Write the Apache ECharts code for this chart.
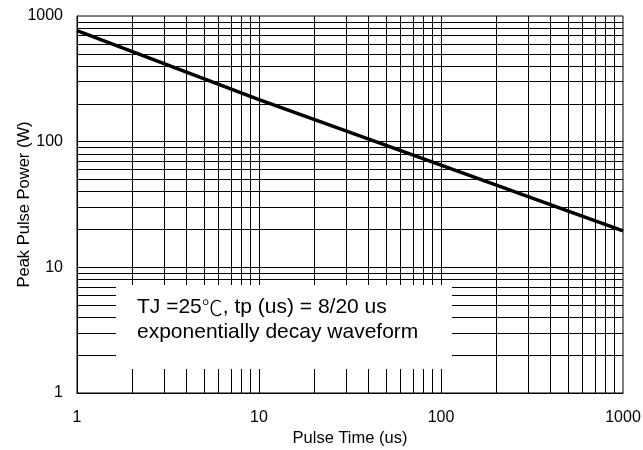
<!DOCTYPE html>
<html>
<head>
<meta charset="utf-8">
<script src="https://cdn.jsdelivr.net/npm/echarts@6/dist/echarts.min.js"></script>
<style>html,body{margin:0;padding:0;background:#fff}#c{width:643px;height:450px}</style>
</head>
<body>
<div id="c"></div>
<script>
// Data
const pulseTime = [1, 10, 100, 1000];
const peakPower = [765, 216, 65, 19.5];
const xGridValues = [2,3,4,5,6,7,8,9,10,20,30,40,50,60,70,80,90,100,200,300,400,500,600,700,800,900];
const yGridValues = [2,3,4,5,6,7,8,9,10,20,30,40,50,60,70,80,90,100,200,300,400,500,600,700,800,900];
const xTickLabels = ['1', '10', '100', '1000'];
const yTickLabels = ['1', '10', '100', '1000'];
const xTitle = 'Pulse Time (us)';
const yTitle = 'Peak Pulse Power (W)';
const noteLine1Parts = ['TJ =25', '\u2103', ', tp (us) = 8/20 us'];
const noteLine2 = 'exponentially decay waveform';

const FONT = '"Liberation Sans", Arial, sans-serif';
const chart = echarts.init(document.getElementById('c'), null, {renderer: 'canvas'});

const gridMarks = [];
xGridValues.forEach(v => gridMarks.push({xAxis: v}));
yGridValues.forEach(v => gridMarks.push({yAxis: v}));

function tickFmt(list) {
  return function (v) {
    const i = Math.round(Math.log10(v));
    return list[i] !== undefined ? list[i] : String(v);
  };
}

chart.setOption({
  animation: false,
  backgroundColor: '#fff',
  grid: {left: 77, right: 20, top: 16, bottom: 57, show: true, borderColor: '#000', borderWidth: 1,
         backgroundColor: 'transparent', containLabel: false, outerBoundsMode: 'none'},
  xAxis: {
    type: 'log', logBase: 10, min: 1, max: 1000,
    name: xTitle, nameLocation: 'middle', nameGap: 37, nameMoveOverlap: false,
    nameTextStyle: {fontFamily: FONT, fontSize: 16.5, color: '#000'},
    axisLine: {show: true, lineStyle: {color: '#000', width: 1}},
    axisTick: {show: false},
    axisLabel: {fontFamily: FONT, fontSize: 16, color: '#000', margin: 17, formatter: tickFmt(xTickLabels)},
    splitLine: {show: false}
  },
  yAxis: {
    type: 'log', logBase: 10, min: 1, max: 1000,
    name: yTitle, nameLocation: 'middle', nameGap: 44, nameMoveOverlap: false,
    nameTextStyle: {fontFamily: FONT, fontSize: 16.5, color: '#000'},
    axisLine: {show: true, lineStyle: {color: '#000', width: 1}},
    axisTick: {show: false},
    axisLabel: {fontFamily: FONT, fontSize: 16, color: '#000', margin: 14, formatter: tickFmt(yTickLabels)},
    splitLine: {show: false}
  },
  series: [{
    type: 'line',
    data: pulseTime.map((t, i) => [t, peakPower[i]]),
    showSymbol: false,
    symbol: 'none',
    lineStyle: {color: '#000', width: 3.5},
    z: 5,
    silent: true,
    markLine: {
      silent: true,
      symbol: 'none',
      label: {show: false},
      lineStyle: {color: '#000', width: 1, type: 'solid'},
      emphasis: {disabled: true},
      z: 1,
      data: gridMarks
    }
  }],
  graphic: [
    {type: 'rect', z: 100, shape: {x: 116, y: 285, width: 336, height: 84}, style: {fill: '#fff'}},
    {type: 'text', z: 101, x: 137, y: 307, style: {
      text: '{a|' + noteLine1Parts[0] + '}{c|' + noteLine1Parts[1] + '}{a|' + noteLine1Parts[2] + '}',
      verticalAlign: 'middle',
      rich: {
        a: {fontFamily: FONT, fontSize: 21, fill: '#000'},
        c: {fontFamily: '"Noto Sans CJK SC"', fontSize: 21, fill: '#000', fontWeight: 200}
      }
    }},
    {type: 'text', z: 101, x: 137, y: 332, style: {text: noteLine2, font: '21px ' + FONT, fill: '#000', verticalAlign: 'middle'}}
  ]
});
</script>
</body>
</html>
